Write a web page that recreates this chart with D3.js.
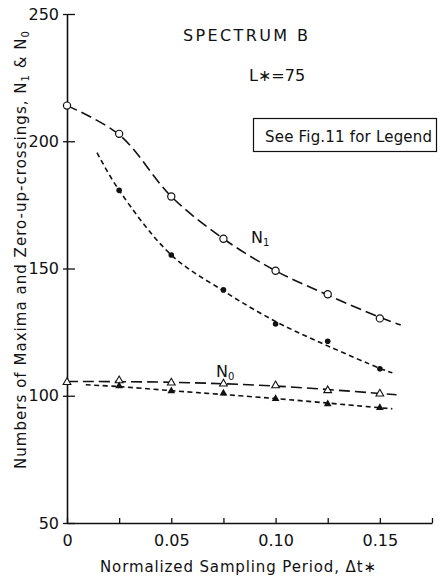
<!DOCTYPE html>
<html lang="en">
<head>
<meta charset="utf-8">
<script src="https://d3js.org/d3.v7.min.js"></script>
<style>
  body { margin: 0; background: #fff; }
  text { font-family: "DejaVu Sans", sans-serif; fill: #111; }
</style>
</head>
<body>
<script>
// values (spectrum B, L* = 75)
var dtN1 = [0, 0.025, 0.05, 0.075, 0.10, 0.125, 0.15];
var openN1 = [214.0, 202.9, 178.3, 161.7, 149.1, 139.9, 130.4];
var fillN1 = [null, 180.7, 155.3, 141.6, 128.2, 121.4, 110.6];
var openN0 = [105.3, 106.0, 105.1, 104.7, 104.0, 102.1, 100.8];
var fillN0 = [null, 103.8, 101.9, 101.0, 98.8, 96.8, 95.3];

// where the fitted curves run, start and end
var curveOpenN1 = [[0, 214.0], [0.025, 202.6], [0.05, 178.3], [0.075, 161.7], [0.10, 149.1], [0.125, 139.6], [0.15, 130.8], [0.16, 127.8]];
var curveFillN1 = [[0.0144, 195.5], [0.025, 180.7], [0.05, 155.3], [0.075, 141.2], [0.10, 129.2], [0.125, 119.6], [0.15, 110.8], [0.156, 109.0]];
var curveOpenN0 = [[0, 105.6], [0.05, 105.3], [0.10, 103.8], [0.15, 100.9], [0.158, 100.4]];
var curveFillN0 = [[0.009, 104.3], [0.025, 103.6], [0.05, 102.0], [0.10, 98.9], [0.15, 95.3], [0.156, 94.9]];

var xTicks = [0, 0.025, 0.05, 0.075, 0.10, 0.125, 0.15, 0.175];
var xLabels = {0: "0", 0.05: "0.05", 0.1: "0.10", 0.15: "0.15"};
var yTicks = [50, 100, 150, 200, 250];

var width = 440, height = 577;

var svg = d3.select("body").append("svg")
    .attr("width", width)
    .attr("height", height);

var x = d3.scaleLinear().domain([0, 0.175]).range([67, 432]);
var y = d3.scaleLinear().domain([50, 250]).range([523, 14]);

// axes
var xAxis = d3.axisBottom(x)
    .tickValues(xTicks)
    .tickSizeInner(-5)
    .tickSizeOuter(0)
    .tickPadding(12)
    .tickFormat(function (d) { return xLabels[+d.toFixed(3)] || ""; });

var gx = svg.append("g")
    .attr("transform", "translate(0," + y(50) + ")")
    .call(xAxis);

var yAxis = d3.axisLeft(y)
    .tickValues(yTicks)
    .tickSizeInner(-8)
    .tickSizeOuter(0)
    .tickPadding(6)
    .tickFormat(d3.format("d"));

var gy = svg.append("g")
    .attr("transform", "translate(" + x(0) + ",0)")
    .call(yAxis);

[gx, gy].forEach(function (g) {
    g.select(".domain").attr("stroke", "#111").attr("stroke-width", 1.6);
    g.selectAll(".tick line").attr("stroke", "#111").attr("stroke-width", 1.3);
    g.selectAll(".tick text")
        .style("font-family", "DejaVu Sans, sans-serif")
        .style("font-size", "16px")
        .attr("fill", "#111");
});
gy.selectAll(".tick line").attr("x1", -4);
gy.selectAll(".tick text").attr("dx", "-2");

// curves
var line = d3.line()
    .x(function (d) { return x(d[0]); })
    .y(function (d) { return y(d[1]); })
    .curve(d3.curveCatmullRom.alpha(0.5));

var curves = [
    {pts: curveOpenN1, dash: "11,5"},
    {pts: curveFillN1, dash: "5,3.5"},
    {pts: curveOpenN0, dash: "11,5"},
    {pts: curveFillN0, dash: "5,3.5"}
];

svg.selectAll(".curve")
    .data(curves)
    .enter().append("path")
    .attr("class", "curve")
    .attr("d", function (d) { return line(d.pts); })
    .attr("fill", "none")
    .attr("stroke", "#111")
    .attr("stroke-width", 1.6)
    .attr("stroke-dasharray", function (d) { return d.dash; });

// markers
function pairs(vals) {
    return dtN1.map(function (t, i) { return [t, vals[i]]; })
        .filter(function (d) { return d[1] != null; });
}

svg.selectAll(".c-open")
    .data(pairs(openN1))
    .enter().append("circle")
    .attr("cx", function (d) { return x(d[0]); })
    .attr("cy", function (d) { return y(d[1]); })
    .attr("r", 3.6)
    .attr("fill", "#fff")
    .attr("stroke", "#111")
    .attr("stroke-width", 1.2);

svg.selectAll(".c-fill")
    .data(pairs(fillN1))
    .enter().append("circle")
    .attr("cx", function (d) { return x(d[0]); })
    .attr("cy", function (d) { return y(d[1]); })
    .attr("r", 2.8)
    .attr("fill", "#111");

var tri = d3.symbol().type(d3.symbolTriangle).size(26);

svg.selectAll(".t-open")
    .data(pairs(openN0))
    .enter().append("path")
    .attr("d", tri)
    .attr("transform", function (d) { return "translate(" + x(d[0]) + "," + y(d[1]) + ")"; })
    .attr("fill", "#fff")
    .attr("stroke", "#111")
    .attr("stroke-width", 1.1);

svg.selectAll(".t-fill")
    .data(pairs(fillN0))
    .enter().append("path")
    .attr("d", tri)
    .attr("transform", function (d) { return "translate(" + x(d[0]) + "," + y(d[1]) + ")"; })
    .attr("fill", "#111");

// annotations
svg.append("text")
    .attr("x", 183).attr("y", 41)
    .attr("textLength", 125).attr("lengthAdjust", "spacing")
    .style("font-size", "16px")
    .text("SPECTRUM  B");

svg.append("text")
    .attr("x", 249).attr("y", 81)
    .style("font-size", "16px")
    .text("L\u2217=75");

svg.append("rect")
    .attr("x", 253.5).attr("y", 118.5)
    .attr("width", 183).attr("height", 33)
    .attr("fill", "none")
    .attr("stroke", "#111")
    .attr("stroke-width", 1.2);

svg.append("text")
    .attr("x", 265).attr("y", 142)
    .attr("textLength", 167).attr("lengthAdjust", "spacing")
    .style("font-size", "15px")
    .text("See Fig.11 for Legend");

var n1 = svg.append("text").attr("x", 251).attr("y", 243).style("font-size", "16px");
n1.append("tspan").text("N");
n1.append("tspan").attr("dy", 3).style("font-size", "10px").text("1");

var n0 = svg.append("text").attr("x", 216).attr("y", 377).style("font-size", "16px");
n0.append("tspan").text("N");
n0.append("tspan").attr("dy", 3).style("font-size", "10px").text("0");

svg.append("text")
    .attr("x", 238).attr("y", 572)
    .attr("text-anchor", "middle")
    .attr("textLength", 276).attr("lengthAdjust", "spacing")
    .style("font-size", "15px")
    .text("Normalized  Sampling  Period,  \u0394t\u2217");

var yl = svg.append("text")
    .attr("transform", "translate(26,250) rotate(-90)")
    .attr("text-anchor", "middle")
    .attr("textLength", 438).attr("lengthAdjust", "spacing")
    .style("font-size", "15px");
yl.append("tspan").text("Numbers of Maxima and Zero-up-crossings, N");
yl.append("tspan").attr("dy", 3).style("font-size", "10px").text("1");
yl.append("tspan").attr("dy", -3).text(" & N");
yl.append("tspan").attr("dy", 3).style("font-size", "10px").text("0");
</script>
</body>
</html>
